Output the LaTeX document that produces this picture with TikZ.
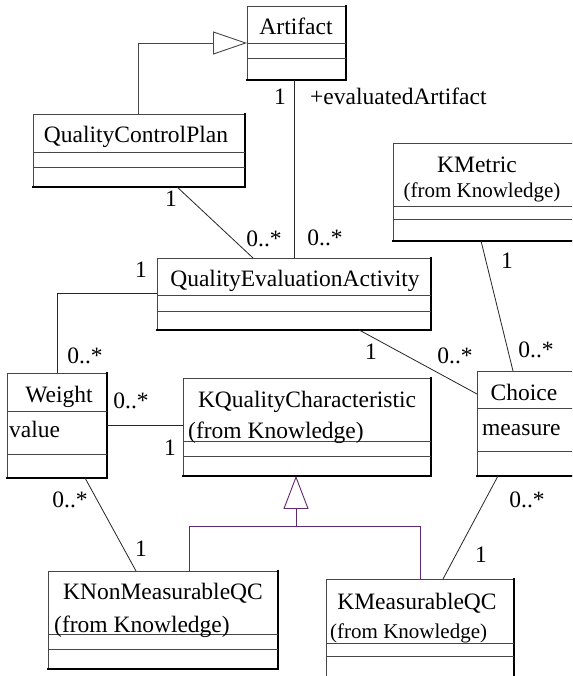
\documentclass[tikz,border=0pt]{standalone}
\usepackage{fontspec}
\setmainfont{Liberation Serif}
\usetikzlibrary{calc,arrows.meta}
\definecolor{genpurple}{RGB}{96,40,110}
\definecolor{edgegray}{RGB}{70,70,70}
\begin{document}
\begin{tikzpicture}[x=1pt,y=-1pt,
  classbox/.style={draw=edgegray, line width=0.9pt, rectangle, inner sep=0pt, anchor=north west},
  shade/.style={draw=black, line width=1.6pt, line cap=rect},
  sep/.style={draw=edgegray, line width=0.9pt},
  assoc/.style={draw=black!85, line width=0.8pt},
  gen/.style={draw=edgegray, line width=0.9pt, -{Triangle[open, length=34pt, width=23pt, line width=0.9pt]}},
  gensub/.style={draw=genpurple, line width=0.9pt},
  genarrow/.style={gensub, -{Triangle[open, length=33pt, width=25pt, line width=0.9pt]}},
  txt/.style={inner sep=0pt, font=\fontsize{23.5}{28}\selectfont, anchor=base},
  txtl/.style={txt, anchor=base west},
  small/.style={txtl, font=\fontsize{21}{25}\selectfont},
  mult/.style={txt}
]
\useasboundingbox (0,0) rectangle (572,676);
\clip (0,0) rectangle (572,676);
\fill[white] (0,0) rectangle (572,676);

% ---- class boxes ----
\node[classbox, minimum width=98pt,  minimum height=73pt] (artifact) at (247,6) {};
\node[classbox, minimum width=211pt, minimum height=72pt] (qcp) at (33,114) {};
\node[classbox, minimum width=190pt, minimum height=97pt] (kmetric) at (393,143) {};
\node[classbox, minimum width=273pt, minimum height=71pt] (qea) at (157,258) {};
\node[classbox, minimum width=99pt,  minimum height=104pt] (weight) at (7,373) {};
\node[classbox, minimum width=247pt, minimum height=97pt] (kqc) at (183,378) {};
\node[classbox, minimum width=105pt, minimum height=104pt] (choice) at (477,371) {};
\node[classbox, minimum width=229pt, minimum height=97pt] (knm) at (48,571) {};
\node[classbox, minimum width=187pt, minimum height=115pt] (km) at (326,579) {};

% darker lower and right edges
\foreach \c in {artifact,qcp,kmetric,qea,weight,kqc,choice,knm,km}{
  \draw[shade] (\c.south west) -- (\c.south east) -- (\c.north east);
}

% ---- compartment separators ----
\draw[sep] ($(artifact.north west)+(0,37)$) -- ($(artifact.north east)+(0,37)$);
\draw[sep] ($(artifact.north west)+(0,52)$) -- ($(artifact.north east)+(0,52)$);
\draw[sep] ($(qcp.north west)+(0,38)$) -- ($(qcp.north east)+(0,38)$);
\draw[sep] ($(qcp.north west)+(0,53)$) -- ($(qcp.north east)+(0,53)$);
\draw[sep] ($(kmetric.north west)+(0,63)$) -- ($(kmetric.north east)+(0,63)$);
\draw[sep] ($(kmetric.north west)+(0,76)$) -- ($(kmetric.north east)+(0,76)$);
\draw[sep] ($(qea.north west)+(0,37)$) -- ($(qea.north east)+(0,37)$);
\draw[sep] ($(qea.north west)+(0,53)$) -- ($(qea.north east)+(0,53)$);
\draw[sep] ($(weight.north west)+(0,38)$) -- ($(weight.north east)+(0,38)$);
\draw[sep] ($(weight.north west)+(0,81)$) -- ($(weight.north east)+(0,81)$);
\draw[sep] ($(kqc.north west)+(0,63)$) -- ($(kqc.north east)+(0,63)$);
\draw[sep] ($(kqc.north west)+(0,78)$) -- ($(kqc.north east)+(0,78)$);
\draw[sep] ($(choice.north west)+(0,37)$) -- ($(choice.north east)+(0,37)$);
\draw[sep] ($(choice.north west)+(0,80)$) -- ($(choice.north east)+(0,80)$);
\draw[sep] ($(knm.north west)+(0,63)$) -- ($(knm.north east)+(0,63)$);
\draw[sep] ($(knm.north west)+(0,78)$) -- ($(knm.north east)+(0,78)$);
\draw[sep] ($(km.north west)+(0,64)$) -- ($(km.north east)+(0,64)$);
\draw[sep] ($(km.north west)+(0,77)$) -- ($(km.north east)+(0,77)$);

% ---- class names and attributes ----
\node[txt]  (artifact-name) at (296,35)  {Artifact};
\node[txt]  (qcp-name)      at (136,143) {QualityControlPlan};
\node[txt]  (kmetric-name)  at (477,173) {KMetric};
\node[small,anchor=base] (kmetric-pkg) at (482,197) {(from Knowledge)};
\node[txt]  (qea-name)      at (295,286) {QualityEvaluationActivity};
\node[txt]  (weight-name)   at (59,402)  {Weight};
\node[txtl] (weight-attr)   at (9,437)   {value};
\node[txt]  (kqc-name)      at (307,407) {KQualityCharacteristic};
\node[txtl] (kqc-pkg)       at (188,438) {(from Knowledge)};
\node[txt]  (choice-name)   at (524,400) {Choice};
\node[txtl] (choice-attr)   at (482,435) {measure};
\node[txt]  (knm-name)      at (163,599) {KNonMeasurableQC};
\node[txtl] (knm-pkg)       at (54,632)  {(from Knowledge)};
\node[txt]  (km-name)       at (417,609) {KMeasurableQC};
\node[small] (km-pkg)       at (330,638) {(from Knowledge)};

% ---- generalizations ----
\draw[gen] ($(qcp.north west)+(105,0)$) |- ($(artifact.north west)+(0,37)$);
\coordinate (gjoin) at ($(kqc.south west)+(113,51)$);
\draw[gensub] ($(knm.north west)+(141,0)$) |- ($(km.north west)+(94,-53)$) -- ($(km.north west)+(94,0)$);
\draw[genarrow] (gjoin) -- ($(kqc.south west)+(113,0)$);

% ---- associations ----
\draw[assoc] ($(artifact.south west)+(47,0)$) -- ($(qea.north west)+(137,0)$);
\draw[assoc] ($(qcp.south west)+(144,0)$) -- ($(qea.north west)+(96,0)$);
\draw[assoc] ($(qea.north west)+(0,35)$) -| ($(weight.north west)+(50,0)$);
\draw[assoc] ($(qea.south west)+(202,0)$) -- ($(choice.north west)+(0,23)$);
\draw[assoc] ($(kmetric.south west)+(88,0)$) -- ($(choice.north west)+(36,0)$);
\draw[assoc] ($(weight.north east)+(0,52)$) -- ($(kqc.north west)+(0,47)$);
\draw[assoc] ($(weight.south west)+(78,0)$) -- ($(knm.north west)+(88,0)$);
\draw[assoc] ($(choice.south west)+(21,0)$) -- ($(km.north west)+(117,0)$);

% ---- multiplicities and role names ----
\node[mult] (m-art)    at (280,105) {1};
\node[txtl] (role-art) at (310,105) {+evaluatedArtifact};
\node[mult] (m-qcp)    at (171,207) {1};
\node[mult] (m-qea1)   at (264,246) {0..*};
\node[mult] (m-qea2)   at (325,245) {0..*};
\node[mult] (m-qea3)   at (141,277) {1};
\node[mult] (m-wt1)    at (85,363)  {0..*};
\node[mult] (m-km1)    at (507,268) {1};
\node[mult] (m-ch1)    at (536,357) {0..*};
\node[mult] (m-qea4)   at (371,359) {1};
\node[mult] (m-ch2)    at (455,363) {0..*};
\node[mult] (m-wt2)    at (131,408) {0..*};
\node[mult] (m-kqc)    at (170,455) {1};
\node[mult] (m-wt3)    at (70,507)  {0..*};
\node[mult] (m-knm)    at (141,556) {1};
\node[mult] (m-ch3)    at (527,507) {0..*};
\node[mult] (m-kmq)    at (481,562) {1};
\end{tikzpicture}
\end{document}
